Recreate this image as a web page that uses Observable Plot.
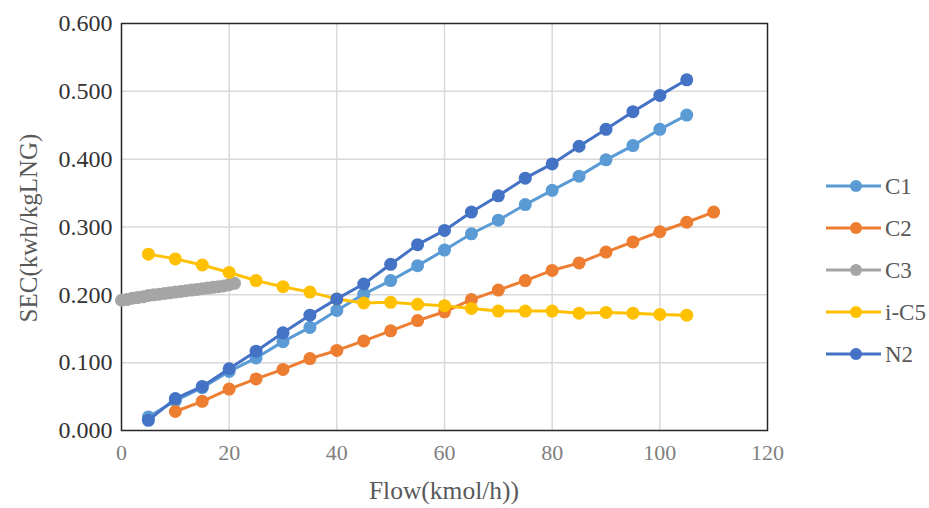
<!DOCTYPE html>
<html>
<head>
<meta charset="utf-8">
<script src="https://cdn.jsdelivr.net/npm/d3@7"></script>
<script src="https://cdn.jsdelivr.net/npm/@observablehq/plot@0.6"></script>
<style>
  html, body { margin: 0; padding: 0; background: #fff; }
  #chart { position: relative; width: 929px; height: 508px; }
</style>
</head>
<body>
<div id="chart"></div>
<script>
// ---- data ----
const seriesNames = ["C1", "C2", "C3", "i-C5", "N2"];
const seriesColors = ["#5B9BD5", "#ED7D31", "#A5A5A5", "#FFC000", "#4472C4"];

const flowC1 = [5,10,15,20,25,30,35,40,45,50,55,60,65,70,75,80,85,90,95,100,105];
const secC1 = [0.020,0.044,0.063,0.087,0.107,0.131,0.152,0.177,0.201,0.221,0.243,0.266,0.290,0.310,0.333,0.354,0.375,0.399,0.420,0.444,0.465];

const flowC2 = [10,15,20,25,30,35,40,45,50,55,60,65,70,75,80,85,90,95,100,105,110];
const secC2 = [0.028,0.043,0.061,0.076,0.090,0.106,0.118,0.132,0.147,0.162,0.175,0.193,0.207,0.221,0.236,0.247,0.263,0.278,0.293,0.307,0.322];

const flowC3 = [0,1,2,3,4,5,6,7,8,9,10,11,12,13,14,15,16,17,18,19,20,21];
const secC3 = [0.192,0.193,0.195,0.196,0.197,0.199,0.200,0.201,0.202,0.203,0.204,0.205,0.206,0.207,0.208,0.209,0.210,0.211,0.212,0.213,0.215,0.217];

const flowIC5 = [5,10,15,20,25,30,35,40,45,50,55,60,65,70,75,80,85,90,95,100,105];
const secIC5 = [0.260,0.253,0.244,0.233,0.221,0.212,0.204,0.194,0.188,0.189,0.186,0.184,0.180,0.176,0.176,0.176,0.173,0.174,0.173,0.171,0.170];

const flowN2 = [5,10,15,20,25,30,35,40,45,50,55,60,65,70,75,80,85,90,95,100,105];
const secN2 = [0.015,0.047,0.065,0.091,0.117,0.144,0.170,0.194,0.216,0.245,0.274,0.295,0.322,0.346,0.372,0.393,0.419,0.444,0.470,0.494,0.517];

const xTicks = [0,20,40,60,80,100,120];
const yTicks = [0,0.1,0.2,0.3,0.4,0.5,0.6];

const xLabel = "Flow(kmol/h))";
const yLabel = "SEC(kwh/kgLNG)";

// ---- build table ----
const allFlows = [flowC1, flowC2, flowC3, flowIC5, flowN2];
const allSecs = [secC1, secC2, secC3, secIC5, secN2];
const data = [];
seriesNames.forEach((name, i) => {
  allFlows[i].forEach((f, j) => data.push({series: name, flow: f, sec: allSecs[i][j]}));
});

const font = "'Liberation Serif', 'Times New Roman', serif";

const marks = [
  Plot.gridX(xTicks.filter(d => d > 0 && d < 120), {stroke: "#d9d9d9", strokeOpacity: 1, strokeWidth: 1.5}),
  Plot.gridY(yTicks.filter(d => d > 0 && d < 0.6), {stroke: "#d9d9d9", strokeOpacity: 1, strokeWidth: 1.5}),
  Plot.frame({stroke: "#262626", strokeWidth: 1.5}),
  Plot.axisX({ticks: xTicks, tickSize: 0, tickPadding: 14, fontSize: 22, fill: "#808080",
              tickFormat: d => String(d), label: null}),
  Plot.axisY({ticks: yTicks, tickSize: 0, tickPadding: 9, fontSize: 24, fill: "#333333",
              tickFormat: d => d3.format(".3f")(d), label: null})
];
seriesNames.forEach((name, i) => {
  const sub = data.filter(d => d.series === name);
  marks.push(Plot.line(sub, {x: "flow", y: "sec", stroke: seriesColors[i], strokeWidth: 3}));
  marks.push(Plot.dot(sub, {x: "flow", y: "sec", fill: seriesColors[i], r: 6.5}));
});

const plot = Plot.plot({
  width: 929,
  height: 508,
  marginLeft: 121,
  marginRight: 162,
  marginTop: 23,
  marginBottom: 78,
  style: {fontFamily: font, background: "#fff", overflow: "visible"},
  x: {domain: [0, 120]},
  y: {domain: [0, 0.6]},
  marks
});

document.getElementById("chart").appendChild(plot);

// ---- axis titles and legend ----
const svg = d3.select(plot);
svg.append("text")
  .attr("x", (121 + 767) / 2).attr("y", 499)
  .attr("text-anchor", "middle")
  .attr("font-family", font).attr("font-size", 25.5).attr("fill", "#595959")
  .text(xLabel);
svg.append("text")
  .attr("transform", "translate(37,228) rotate(-90)")
  .attr("text-anchor", "middle")
  .attr("font-family", font).attr("font-size", 25).attr("fill", "#595959")
  .text(yLabel);

const legend = svg.append("g");
seriesNames.forEach((name, i) => {
  const y = 186 + i * 42;
  legend.append("line").attr("x1", 826).attr("x2", 881).attr("y1", y).attr("y2", y)
    .attr("stroke", seriesColors[i]).attr("stroke-width", 3);
  legend.append("circle").attr("cx", 856).attr("cy", y).attr("r", 6).attr("fill", seriesColors[i]);
  legend.append("text").attr("x", 885).attr("y", y).attr("dy", "0.35em")
    .attr("text-anchor", "start")
    .attr("font-family", font).attr("font-size", 23).attr("fill", "#595959")
    .text(name);
});
</script>
</body>
</html>
